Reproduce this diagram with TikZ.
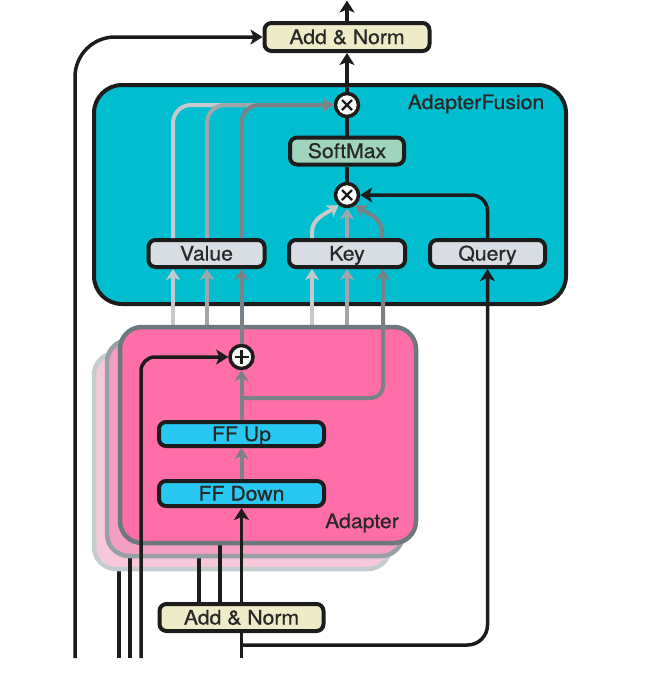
\documentclass[tikz,border=0pt]{standalone}
\usepackage{fontspec}
\setmainfont[FakeStretch=1.06,FakeBold=0.7]{TeX Gyre Heros}
\usetikzlibrary{arrows.meta}
\definecolor{afcyan}{RGB}{0,190,207}
\definecolor{boxgray}{RGB}{216,221,227}
\definecolor{smgreen}{RGB}{160,212,188}
\definecolor{anyellow}{RGB}{238,236,200}
\definecolor{ffblue}{RGB}{40,200,242}
\definecolor{pinkA}{RGB}{255,110,168}
\definecolor{pinkB}{RGB}{244,158,194}
\definecolor{pinkC}{RGB}{247,200,218}
\definecolor{bordA}{RGB}{108,120,126}
\definecolor{bordB}{RGB}{150,160,166}
\definecolor{bordC}{RGB}{196,204,208}
\definecolor{inkc}{RGB}{28,28,28}
\definecolor{txtc}{RGB}{40,40,40}
\definecolor{gL}{RGB}{198,202,204}
\definecolor{gM}{RGB}{160,166,170}
\definecolor{gD}{RGB}{122,130,135}
\tikzset{
  blk/.style={draw=inkc, line width=3.5pt},
  gline/.style={line width=4pt},
  arr/.style={-{Stealth[length=12pt,width=15pt,inset=3pt]}},
  garr/.style={-{Stealth[length=11pt,width=14pt,inset=3pt]}},
  txt/.style={text=txtc, font=\fontsize{20}{24}\selectfont},
  blockbox/.style={txt, draw=inkc, line width=4pt, rounded corners=7pt, inner sep=0pt, text height=14pt, text depth=0pt},
  afbox/.style={draw=inkc, fill=afcyan, line width=4pt, rounded corners=28pt, inner sep=0pt},
  pinkbox/.style={line width=4.5pt, rounded corners=22pt, inner sep=0pt, minimum width=296pt, minimum height=216pt},
  lbl/.style={txt, inner sep=0pt},
  otimesnode/.style={circle, draw=inkc, line width=3.5pt, fill=white, minimum size=23pt, inner sep=0pt,
    path picture={\draw[inkc,line width=2.4pt]
      ([shift={(-5pt,-5pt)}]path picture bounding box.center) -- ([shift={(5pt,5pt)}]path picture bounding box.center)
      ([shift={(-5pt,5pt)}]path picture bounding box.center) -- ([shift={(5pt,-5pt)}]path picture bounding box.center);}},
  oplusnode/.style={circle, draw=inkc, line width=3.5pt, fill=white, minimum size=23pt, inner sep=0pt,
    path picture={\draw[inkc,line width=2.4pt]
      ([shift={(-7pt,0pt)}]path picture bounding box.center) -- ([shift={(7pt,0pt)}]path picture bounding box.center)
      ([shift={(0pt,7pt)}]path picture bounding box.center) -- ([shift={(0pt,-7pt)}]path picture bounding box.center);}},
}
\begin{document}
\begin{tikzpicture}[x=1pt,y=-1pt]
\useasboundingbox (0,0) rectangle (668,678);
% ---------- AdapterFusion block ----------
\node[afbox, minimum width=472pt, minimum height=219pt] (af) at (330,194.5) {};
\node[lbl] (aflbl) at (476,104) {AdapterFusion};
\node[blockbox, fill=anyellow, minimum width=165pt, minimum height=28pt] (an1) at (347,37) {Add \& Norm};
\node[otimesnode] (mt) at (347,105) {};
\node[blockbox, fill=smgreen, minimum width=114pt, minimum height=27pt] (sm) at (347,151) {SoftMax};
\node[otimesnode] (mb) at (347,195) {};
\node[blockbox, fill=boxgray, minimum width=116pt, minimum height=27pt] (val) at (206.5,253.5) {Value};
\node[blockbox, fill=boxgray, minimum width=116pt, minimum height=27pt] (key) at (347,253.5) {Key};
\node[blockbox, fill=boxgray, minimum width=115pt, minimum height=27pt] (qry) at (487.5,253.5) {Query};
% ---------- coordinates of free ends ----------
\coordinate (topout) at (347,0.5);
\coordinate (r0) at (75,658);
\coordinate (s3a) at (119,658); \coordinate (s3b) at (119,566);
\coordinate (s2a) at (130,658); \coordinate (s2b) at (130,552);
\coordinate (s2c) at (199,606); \coordinate (s2d) at (199,552);
\coordinate (s1a) at (220,606); \coordinate (s1b) at (220,538);
\coordinate (r1) at (141,658);
\coordinate (in1) at (241.5,658);
\coordinate (qj) at (241.5,645);
\coordinate (gv1) at (173,345); \coordinate (gv2) at (207,345);
\coordinate (gk1) at (312,345); \coordinate (gk2) at (347,345);
\coordinate (jn) at (241.5,398);
% ---------- top connectors ----------
\draw[blk,arr] (an1.north) -- (topout);
\draw[blk,arr,rounded corners=40pt] (r0) |- (an1.west);
\draw[blk,arr] (mt.north) -- (an1.south);
\draw[blk] (mt.south) -- (sm.north);
\draw[blk] (sm.south) -- (mb.north);
\draw[blk,arr,rounded corners=16pt] (qry.north) |- (mb.east);
% value -> otimes
\draw[gline,gL,garr,rounded corners=18pt] ([xshift=-33.5pt]val.north) |- (mt.west);
\draw[gline,gM,garr,rounded corners=18pt] ([xshift=0.5pt]val.north) |- (mt.west);
\draw[gline,gD,garr,rounded corners=18pt] ([xshift=35pt]val.north) |- (mt.west);
% key -> otimes
\draw[gline,gL,garr] ([xshift=-35pt]key.north) -- ++(0,-6) .. controls (312,218) and (327,213) .. (mb.-130);
\draw[gline,gM,garr] (key.north) -- (mb.south);
\draw[gline,gD,garr] ([xshift=35pt]key.north) -- ++(0,-6) .. controls (382,218) and (367,213) .. (mb.-50);
% ---------- stacked adapters ----------
\draw[blk] (s3a) -- (s3b);
\node[pinkbox, fill=pinkC, draw=bordC] (ad3) at (242,461) {};
\draw[blk] (s2a) -- (s2b);
\draw[blk] (s2c) -- (s2d);
\node[pinkbox, fill=pinkB, draw=bordB] (ad2) at (255,448) {};
\draw[blk] (s1a) -- (s1b);
\draw[gline,gL,garr] (gv1) -- (gv1 |- val.south);
\draw[gline,gM,garr] (gv2) -- (gv2 |- val.south);
\draw[gline,gL,garr] (gk1) -- (gk1 |- key.south);
\draw[gline,gM,garr] (gk2) -- (gk2 |- key.south);
\node[pinkbox, fill=pinkA, draw=bordA] (ad1) at (268,435) {};
% ---------- front adapter contents ----------
\node[oplusnode] (pl) at (241.5,357) {};
\node[blockbox, fill=ffblue, minimum width=165pt, minimum height=24pt] (ffu) at (241.5,434) {FF Up};
\node[blockbox, fill=ffblue, minimum width=165pt, minimum height=25pt] (ffd) at (241.5,493.5) {FF Down};
\node[lbl] (adlbl) at (362,523) {Adapter};
\draw[gline,gD,garr] (ffd.north) -- (ffu.south);
\draw[gline,gD,garr] (ffu.north) -- (pl.south);
\draw[gline,gD,garr,rounded corners=12pt] (jn) -| ([xshift=36pt]key.south);
\draw[gline,gD,garr] (pl.north) -- (pl.north |- val.south);
\draw[blk,arr,rounded corners=14pt] (r1) |- (pl.west);
\draw[blk,arr] (in1) -- (ffd.south);
\draw[blk,arr,rounded corners=20pt] (qj) -| (qry.south);
\node[blockbox, fill=anyellow, minimum width=164pt, minimum height=27pt] (an2) at (241.5,617.5) {Add \& Norm};
\end{tikzpicture}
\end{document}
